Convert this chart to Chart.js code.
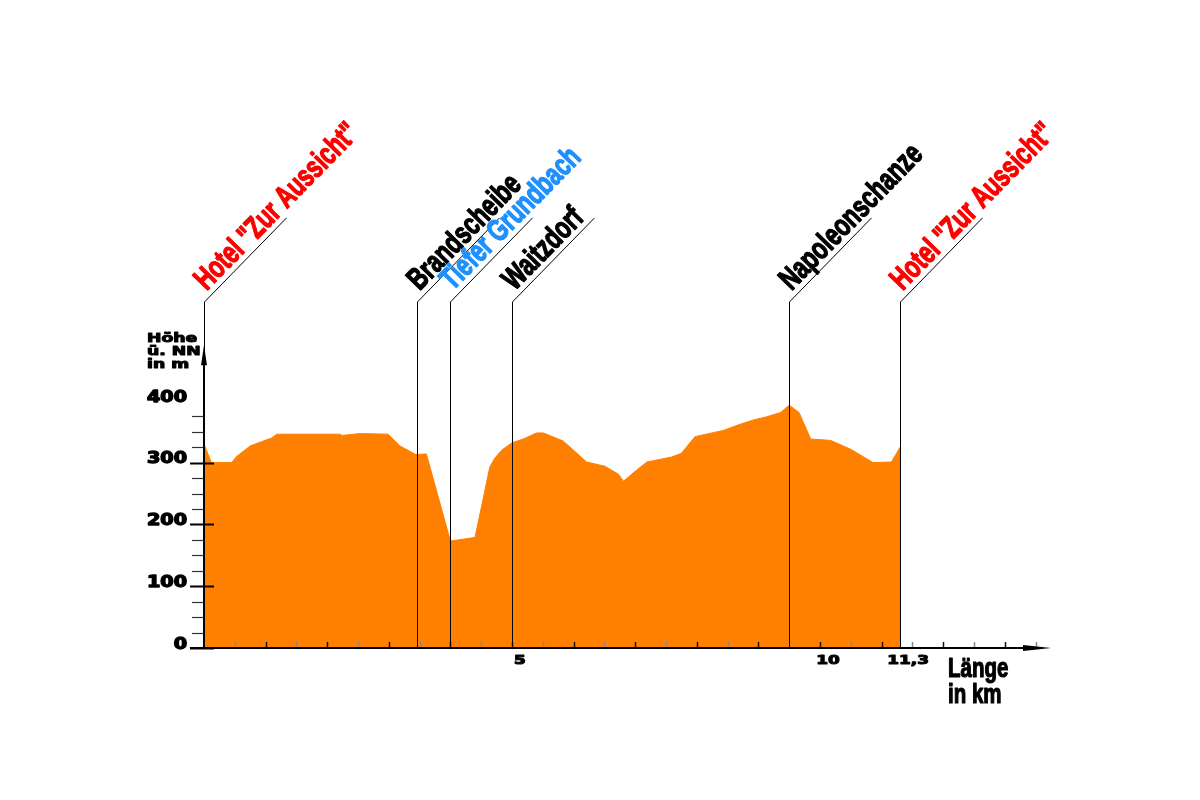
<!DOCTYPE html>
<html>
<head>
<meta charset="utf-8">
<script src="https://cdn.jsdelivr.net/npm/chart.js@4.4.0/dist/chart.umd.min.js"></script>
<style>
    html, body {
        margin: 0;
        background: #fff;
    }

    .wrap {
        width: 1200px;
        height: 800px;
        position: relative;
    }
</style>
</head>
<body>
<div class="wrap"><canvas id="profile"></canvas></div>

<script>
// elevation profile
const distanceKm = [0, 0.12, 0.45, 0.53, 0.75, 1.1, 1.18, 2.21, 2.24, 2.53, 2.99, 3.18, 3.44, 3.61,
    4.0, 4.4, 4.64, 4.72, 4.83, 5.0, 5.18, 5.4, 5.51, 5.83, 6.0, 6.21, 6.51, 6.73, 6.81, 7.0,
    7.19, 7.59, 7.75, 7.97, 8.43, 8.7, 8.92, 9.13, 9.36, 9.5, 9.66, 9.85, 10.17, 10.51, 10.86,
    11.16, 11.3];
const heightM = [330, 300, 300, 310, 327, 340, 346, 346, 344, 347, 346, 327, 313, 314,
    173, 179, 293, 307, 320, 332, 338, 348, 348, 335, 320, 301, 294, 281, 270, 286,
    301, 309, 315, 342, 352, 362, 369, 374, 381, 393, 381, 338, 336, 321, 300,
    301, 325];

// waypoints along the route
const markerKm = [0, 3.45, 4.0, 5.0, 9.5, 11.3];
const markerNames = ['Hotel "Zur Aussicht"', 'Brandscheibe', 'Tiefer Grundbach', 'Waitzdorf',
    'Napoleonschanze', 'Hotel "Zur Aussicht"'];
const markerKinds = ['hotel', 'place', 'water', 'place', 'place', 'hotel'];

// axis ticks
const heightTicks = [0, 100, 200, 300, 400];
const kmTickValues = [5, 10, 11.3];
const kmTickLabels = ['5', '10', '11,3'];

const kindColor = { hotel: '#ff0000', place: '#000000', water: '#1e90ff' };

// heavy text: filled plus a thin outline of the same colour, stretched sideways
function heavyText(ctx, text, px, py, sx, align, weight) {
    ctx.save();
    ctx.translate(px, py);
    ctx.scale(sx, 1);
    ctx.textAlign = align;
    ctx.lineJoin = 'round';
    ctx.lineWidth = weight;
    ctx.strokeStyle = ctx.fillStyle;
    ctx.fillText(text, 0, 0);
    if (weight > 0) ctx.strokeText(text, 0, 0);
    ctx.restore();
}

const profileAxes = {
    id: 'profileAxes',
    afterDatasetsDraw(chart) {
        const ctx = chart.ctx;
        const xs = chart.scales.x;
        const ys = chart.scales.y;
        const x0 = xs.getPixelForValue(0);
        const y0 = ys.getPixelForValue(0);
        const xEnd = xs.getPixelForValue(xs.max);
        const yEnd = ys.getPixelForValue(490);

        ctx.save();
        ctx.fillStyle = '#000';
        ctx.strokeStyle = '#000';

        // y ticks, every 25 m
        for (let v = 0; v <= 375; v += 25) {
            const py = Math.round(ys.getPixelForValue(v)) + 0.5;
            const major = v % 100 === 0;
            ctx.lineWidth = major ? 2 : 1.2;
            ctx.strokeStyle = major ? '#000' : '#333';
            ctx.beginPath();
            ctx.moveTo(x0 - (major ? 14 : 12), py);
            ctx.lineTo(major ? x0 + 10 : x0, py);
            ctx.stroke();
        }

        // x ticks, every 0.5 km
        for (let k = 0.5; k < 13.6; k += 0.5) {
            const px = Math.round(xs.getPixelForValue(k)) + 0.5;
            ctx.lineWidth = 1.5;
            ctx.strokeStyle = Number.isInteger(k) ? '#111' : '#888';
            ctx.beginPath();
            ctx.moveTo(px, y0);
            ctx.lineTo(px, y0 - 6);
            ctx.stroke();
        }

        // axes with arrow heads
        ctx.strokeStyle = '#000';
        ctx.lineWidth = 2;
        ctx.beginPath();
        ctx.moveTo(x0, y0 + 1);
        ctx.lineTo(x0, yEnd + 10);
        ctx.moveTo(x0 - 14, y0);
        ctx.lineTo(xEnd - 20, y0);
        ctx.stroke();
        ctx.beginPath();
        ctx.moveTo(x0, yEnd);
        ctx.lineTo(x0 + 3, yEnd + 20);
        ctx.lineTo(x0 - 3, yEnd + 20);
        ctx.closePath();
        ctx.fill();
        ctx.beginPath();
        ctx.moveTo(xEnd, y0);
        ctx.lineTo(xEnd - 28, y0 + 3);
        ctx.lineTo(xEnd - 28, y0 - 3);
        ctx.closePath();
        ctx.fill();

        // tick labels
        ctx.fillStyle = '#000';
        ctx.textBaseline = 'middle';
        ctx.font = 'bold 15px "DejaVu Sans"';
        heightTicks.forEach(v => {
            heavyText(ctx, String(v), x0 - 17, ys.getPixelForValue(v) - 3, 1.28, 'right', 1.3);
        });
        ctx.font = 'bold 13px "DejaVu Sans"';
        kmTickValues.forEach((v, i) => {
            heavyText(ctx, kmTickLabels[i], xs.getPixelForValue(v) + 8, y0 + 13, 1.3, 'center', 1.1);
        });

        // axis titles
        ctx.textBaseline = 'alphabetic';
        ctx.font = 'bold 12.5px "DejaVu Sans"';
        ['Höhe', 'ü. NN', 'in m'].forEach((t, i) => {
            heavyText(ctx, t, 147, 342 + i * 13, 1.38, 'left', 1);
        });
        ctx.font = 'bold 27px "Liberation Sans"';
        heavyText(ctx, 'Länge', 948, 677, 0.76, 'left', 1.2);
        heavyText(ctx, 'in km', 948, 703, 0.76, 'left', 1.2);

        // waypoint markers
        const ang = 45.6 * Math.PI / 180;
        const top = ys.getPixelForValue(560);
        markerKm.forEach((km, i) => {
            const mx = Math.round(xs.getPixelForValue(km)) + 0.5;
            ctx.strokeStyle = '#000';
            ctx.lineWidth = 1;
            ctx.beginPath();
            ctx.moveTo(mx, y0);
            ctx.lineTo(mx, top);
            ctx.lineTo(mx + 82, top - 84);
            ctx.stroke();

            ctx.save();
            ctx.translate(mx, top);
            ctx.rotate(-ang);
            ctx.font = 'bold 31px "Liberation Sans"';
            ctx.fillStyle = kindColor[markerKinds[i]];
            heavyText(ctx, markerNames[i], 9, -6, 0.72, 'left', 1.4);
            ctx.restore();
        });

        ctx.restore();
    }
};

new Chart(document.getElementById('profile'), {
    type: 'line',
    data: {
        datasets: [{
            data: distanceKm.map((d, i) => ({ x: d, y: heightM[i] })),
            backgroundColor: '#ff8000',
            borderColor: '#ff8000',
            borderWidth: 1,
            pointRadius: 0,
            tension: 0,
            fill: 'origin'
        }]
    },
    options: {
        responsive: true,
        maintainAspectRatio: false,
        animation: false,
        layout: {
            padding: { left: 204, right: 149, top: 339, bottom: 152 }
        },
        plugins: {
            legend: { display: false },
            tooltip: { enabled: false }
        },
        scales: {
            x: { type: 'linear', min: 0, max: 13.75, display: false },
            y: { min: 0, max: 500, display: false }
        }
    },
    plugins: [profileAxes]
});
</script>
</body>
</html>
